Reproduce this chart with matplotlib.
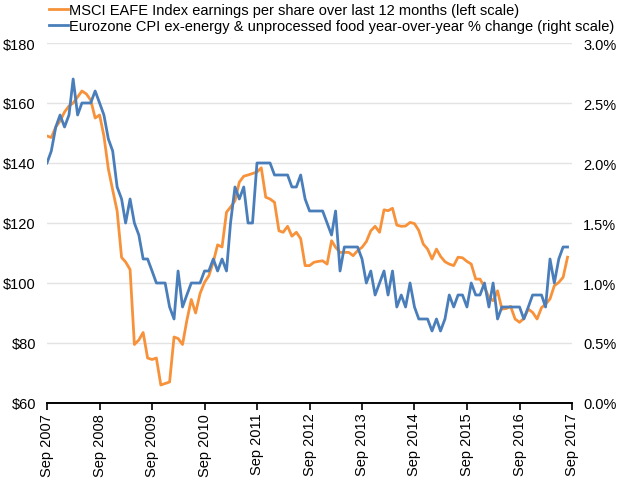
import numpy as np
import pandas as pd
import matplotlib
matplotlib.use("Agg")
import matplotlib.pyplot as plt
import matplotlib.dates as mdates
from matplotlib.ticker import FuncFormatter

plt.rcParams['font.family'] = ['Liberation Sans', 'DejaVu Sans']

# monthly, Sep 2007 .. Aug 2017
months = pd.date_range('2007-09-01', periods=120, freq='MS')

# MSCI EAFE trailing 12m EPS ($), left scale
eps = [149, 148.5, 152, 154, 157, 159, 160, 162, 164, 163, 161, 155,
       156, 149, 138, 131, 124, 108.5, 107, 104.5, 79.5, 81, 83.5, 75,
       74.5, 75, 66, 66.5, 67, 82, 81.5, 79.5, 87.5, 94.5, 90, 96.5,
       100.2, 102.4, 107, 112.7, 112, 123.6, 125.3, 127.4, 133.6, 135.6, 136, 136.5,
       137, 138.4, 128.6, 128, 126.9, 117.4, 116.9, 118.9, 115.6, 116.9, 114.8, 105.8,
       105.8, 106.9, 107.2, 107.4, 106.3, 114.1, 111.9, 110.2, 110.2, 110.2, 109.1, 110.8,
       111.9, 113.8, 117.4, 118.9, 116.9, 124.4, 124.1, 124.9, 119.3, 118.9, 119, 120.2,
       119.8, 117.5, 113, 111.3, 108, 111.3, 108.9, 107.1, 106.3, 105.8, 108.6, 108.4,
       107.2, 106.3, 101.3, 101.3, 98.6, 95.2, 94.1, 97.4, 91.3, 91.5, 92.2, 88,
       86.9, 88.2, 91.3, 90.2, 88, 91.8, 92.9, 94.7, 99.1, 100.2, 101.9, 108.6]

# Eurozone core CPI y/y (%), right scale
cpi = [2.0, 2.1, 2.3, 2.4, 2.3, 2.4, 2.7, 2.4, 2.5, 2.5, 2.5, 2.6,
       2.5, 2.4, 2.2, 2.1, 1.8, 1.7, 1.5, 1.7, 1.5, 1.4, 1.2, 1.2,
       1.1, 1.0, 1.0, 1.0, 0.8, 0.7, 1.1, 0.8, 0.9, 1.0, 1.0, 1.0,
       1.1, 1.1, 1.2, 1.1, 1.2, 1.1, 1.5, 1.8, 1.7, 1.8, 1.5, 1.5,
       2.0, 2.0, 2.0, 2.0, 1.9, 1.9, 1.9, 1.9, 1.8, 1.8, 1.9, 1.7,
       1.6, 1.6, 1.6, 1.6, 1.5, 1.4, 1.6, 1.1, 1.3, 1.3, 1.3, 1.3,
       1.2, 1.0, 1.1, 0.9, 1.0, 1.1, 0.9, 1.1, 0.8, 0.9, 0.8, 1.0,
       0.8, 0.7, 0.7, 0.7, 0.6, 0.7, 0.6, 0.7, 0.9, 0.8, 0.9, 0.9,
       0.8, 1.0, 0.9, 0.9, 1.0, 0.8, 1.0, 0.7, 0.8, 0.8, 0.8, 0.8,
       0.8, 0.7, 0.8, 0.9, 0.9, 0.9, 0.8, 1.2, 1.0, 1.2, 1.3, 1.3]

eps_label = 'MSCI EAFE Index earnings per share over last 12 months (left scale)'
cpi_label = 'Eurozone CPI ex-energy & unprocessed food year-over-year % change (right scale)'

orange = '#F7923A'
blue = '#4A7EBB'
fs = 10.5

fig = plt.figure(figsize=(6.26, 4.81), dpi=100)
ax = fig.add_axes([47/626, 77/481, 525/626, 360/481])
ax2 = ax.twinx()

l1, = ax.plot(months, eps, color=orange, lw=2.0, zorder=3)
l2, = ax2.plot(months, cpi, color=blue, lw=2.0, zorder=3)

ax.set_ylim(60, 180)
ax.set_yticks(np.arange(60, 181, 20))
ax.yaxis.set_major_formatter(FuncFormatter(lambda v, p: '${:.0f}'.format(v)))
ax2.set_ylim(0, 3.0)
ax2.set_yticks(np.arange(0, 3.01, 0.5))
ax2.yaxis.set_major_formatter(FuncFormatter(lambda v, p: '{:.1f}%'.format(v)))

ax.set_xlim(pd.Timestamp('2007-09-01'), pd.Timestamp('2017-09-01'))
ax.xaxis.set_major_locator(mdates.MonthLocator(bymonth=9))
ax.xaxis.set_major_formatter(mdates.DateFormatter('%b %Y'))
for lab in ax.get_xticklabels():
    lab.set_rotation(90)

for a in (ax, ax2):
    for s in ('top', 'left', 'right'):
        a.spines[s].set_visible(False)
    a.spines['bottom'].set_linewidth(1.2)
    a.tick_params(axis='y', length=0, labelsize=fs, pad=8)
ax.tick_params(axis='x', direction='out', length=5, width=1.2, labelsize=fs, pad=2)

ax.yaxis.grid(True, color='#e3e3e3', lw=1)
ax.set_axisbelow(True)

fig.legend([l1, l2], [eps_label, cpi_label], loc='upper left',
           bbox_to_anchor=(40/626, 1.01), frameon=False, fontsize=fs,
           handlelength=1.3, handletextpad=0.1, labelspacing=0.15, borderaxespad=0.2)

fig.savefig('out.png', dpi=100)
